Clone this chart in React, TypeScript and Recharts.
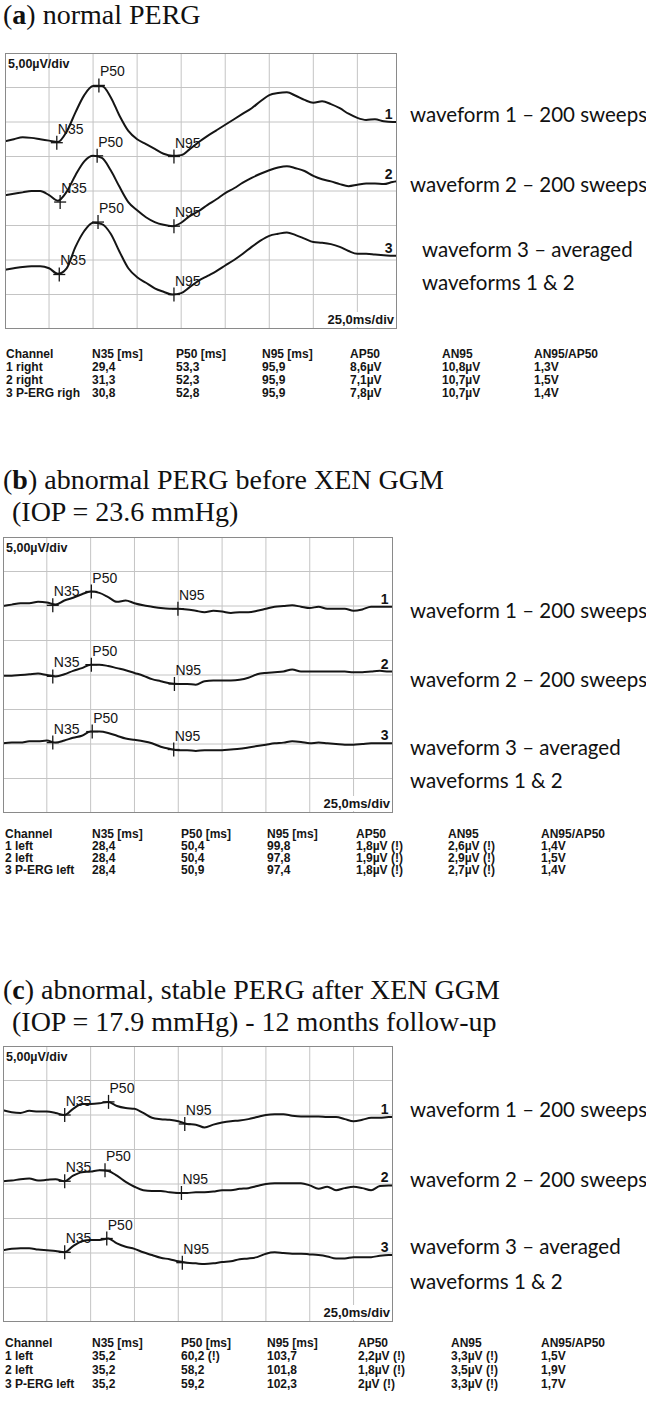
import React from 'react';
import { LineChart, Line, XAxis, YAxis, CartesianGrid, ReferenceDot } from 'recharts';

// sample times (ms) shared by every trace
const TIME_MS = [
  0, 5, 10, 15, 20, 25, 30, 35, 40, 45, 50, 55, 60, 65, 70, 75, 80, 85, 90, 95, 100, 105, 110,
  115, 120, 125, 130, 135, 140, 145, 150, 155, 160, 165, 170, 175, 180, 185, 190, 195, 200, 205,
  210, 215, 220, 222.5
];

// grid: 25 ms/div horizontally, 5 µV/div vertically
const GRID_MS = [25, 50, 75, 100, 125, 150, 175, 200];
const GRID_UV = [5, 10, 15, 20, 25, 30, 35];

// (a) normal PERG – traces in µV on the screen scale (0..40)
const A_WAVE_1 = [
  27.2, 27.5, 27.8, 27.7, 27.5, 27.3, 27.1, 28.6, 31.4, 33.9, 35.2, 35.2, 33.6, 30.9, 28.7, 27.5,
  26.8, 26.1, 25.4, 25.1, 25.2, 26.1, 27.1, 28.0, 28.8, 29.6, 30.4, 31.2, 32.0, 33.0, 33.9, 34.2,
  34.3, 33.8, 33.2, 32.8, 33.0, 32.6, 32.0, 31.2, 30.6, 30.3, 30.4, 30.1, 30.0, 30.0
];
const A_WAVE_2 = [
  19.4, 19.6, 19.8, 20.0, 20.0, 19.4, 18.6, 19.9, 22.3, 24.3, 25.1, 24.8, 23.0, 20.6, 18.4, 17.2,
  16.2, 15.5, 15.1, 14.9, 15.4, 16.4, 17.1, 18.0, 18.8, 19.7, 20.4, 21.2, 21.9, 22.5, 23.0, 23.4,
  23.6, 23.3, 22.9, 22.2, 21.7, 21.4, 21.0, 20.7, 20.9, 21.1, 21.1, 21.0, 21.3, 21.4
];
const A_WAVE_3 = [
  8.6, 8.8, 9.0, 9.1, 9.1, 8.8, 8.0, 8.8, 11.9, 14.2, 15.4, 15.2, 13.8, 11.2, 8.8, 7.5, 6.7, 5.9,
  5.4, 5.0, 5.2, 6.1, 7.0, 7.7, 8.4, 9.2, 10.0, 10.9, 11.9, 12.8, 13.5, 13.8, 14.0, 13.6, 13.1,
  12.6, 12.5, 12.3, 11.9, 11.3, 10.9, 10.9, 10.8, 10.7, 10.6, 10.6
];

// (b) abnormal PERG before XEN GGM
const B_WAVE_1 = [
  30.0, 30.2, 30.4, 30.4, 30.6, 30.5, 30.2, 30.8, 31.2, 31.7, 32.1, 31.9, 31.3, 30.6, 30.8, 30.4,
  30.1, 29.9, 29.7, 29.6, 29.6, 29.5, 29.3, 29.1, 29.3, 29.2, 29.0, 29.1, 29.1, 29.3, 29.6, 29.9,
  30.0, 30.1, 29.9, 29.7, 29.9, 29.6, 29.6, 29.6, 29.3, 29.5, 29.9, 29.9, 29.9, 29.9
];
const B_WAVE_2 = [
  19.9, 19.9, 20.0, 20.1, 20.2, 20.0, 19.8, 20.1, 20.6, 21.0, 21.5, 21.5, 21.3, 21.0, 20.7, 20.3,
  19.9, 19.4, 19.1, 18.8, 18.7, 18.7, 18.6, 19.1, 19.2, 19.2, 19.2, 19.3, 19.6, 20.1, 20.3, 20.4,
  20.5, 20.8, 20.5, 20.5, 20.5, 20.5, 20.5, 20.5, 20.4, 20.4, 20.5, 20.6, 20.5, 20.5
];
const B_WAVE_3 = [
  10.1, 10.2, 10.2, 10.4, 10.4, 10.5, 10.2, 10.5, 10.9, 11.2, 11.8, 11.8, 11.6, 11.2, 10.8, 10.6,
  10.4, 10.1, 9.6, 9.3, 9.1, 9.1, 9.0, 9.1, 9.1, 9.1, 9.2, 9.3, 9.5, 9.7, 9.9, 10.1, 10.2, 10.4,
  10.3, 10.1, 10.2, 10.1, 10.0, 9.9, 9.9, 10.0, 10.1, 10.1, 10.1, 10.1
];

// (c) abnormal, stable PERG after XEN GGM
const C_WAVE_1 = [
  30.7, 30.4, 30.3, 30.6, 30.5, 30.5, 30.3, 30.0, 30.9, 31.6, 31.6, 31.7, 31.9, 31.3, 31.0, 30.9,
  30.3, 29.6, 29.4, 29.3, 29.1, 28.7, 28.6, 28.2, 28.6, 28.9, 29.1, 29.2, 29.4, 29.7, 30.0, 30.1,
  30.1, 29.9, 29.8, 29.8, 29.8, 29.7, 29.7, 29.4, 29.1, 29.3, 29.6, 29.6, 29.7, 29.7
];
const C_WAVE_2 = [
  20.4, 20.5, 20.7, 20.8, 20.5, 20.6, 20.7, 20.4, 21.2, 21.7, 21.8, 22.0, 21.9, 21.2, 20.3, 19.6,
  19.1, 19.0, 19.0, 18.8, 18.7, 18.7, 18.8, 18.8, 18.9, 19.1, 19.1, 19.3, 19.4, 19.7, 20.0, 20.1,
  20.1, 20.1, 20.1, 19.8, 19.3, 19.6, 19.1, 19.4, 19.6, 19.4, 19.1, 19.7, 19.8, 19.8
];
const C_WAVE_3 = [
  10.4, 10.6, 10.7, 10.7, 10.5, 10.4, 10.3, 10.1, 11.0, 11.7, 11.9, 11.9, 12.1, 11.4, 10.9, 10.6,
  10.1, 9.7, 9.3, 9.1, 8.8, 8.6, 8.5, 8.4, 8.5, 8.7, 8.8, 9.1, 9.2, 9.4, 9.9, 10.1, 10.0, 9.9,
  9.9, 9.8, 9.7, 9.5, 9.2, 9.2, 9.4, 9.4, 9.4, 9.6, 9.7, 9.7
];

// peak markers: [name, latency ms, level µV]
type Peak = [string, number, number];
const A_PEAKS_1: Peak[] = [['N35', 29.4, 27.0], ['P50', 53.3, 35.3], ['N95', 95.9, 25.0]];
const A_PEAKS_2: Peak[] = [['N35', 31.3, 18.4], ['P50', 52.3, 25.1], ['N95', 95.9, 14.9]];
const A_PEAKS_3: Peak[] = [['N35', 30.8, 7.9], ['P50', 52.8, 15.5], ['N95', 95.9, 5.0]];
const B_PEAKS_1: Peak[] = [['N35', 28.4, 30.1], ['P50', 50.4, 32.1], ['N95', 99.8, 29.6]];
const B_PEAKS_2: Peak[] = [['N35', 28.4, 19.8], ['P50', 50.4, 21.5], ['N95', 97.8, 18.7]];
const B_PEAKS_3: Peak[] = [['N35', 28.4, 10.2], ['P50', 50.9, 11.8], ['N95', 97.4, 9.2]];
const C_PEAKS_1: Peak[] = [['N35', 35.2, 30.0], ['P50', 60.2, 31.9], ['N95', 103.7, 28.7]];
const C_PEAKS_2: Peak[] = [['N35', 35.2, 20.4], ['P50', 58.2, 22.0], ['N95', 101.8, 18.7]];
const C_PEAKS_3: Peak[] = [['N35', 35.2, 10.1], ['P50', 59.2, 12.1], ['N95', 102.3, 8.6]];

const TABLE_HEAD = ['Channel', 'N35 [ms]', 'P50 [ms]', 'N95 [ms]', 'AP50', 'AN95', 'AN95/AP50'];
const A_ROWS = [
  ['1 right', '29,4', '53,3', '95,9', '8,6µV', '10,8µV', '1,3V'],
  ['2 right', '31,3', '52,3', '95,9', '7,1µV', '10,7µV', '1,5V'],
  ['3 P-ERG righ', '30,8', '52,8', '95,9', '7,8µV', '10,7µV', '1,4V']
];
const B_ROWS = [
  ['1 left', '28,4', '50,4', '99,8', '1,8µV (!)', '2,6µV (!)', '1,4V'],
  ['2 left', '28,4', '50,4', '97,8', '1,9µV (!)', '2,9µV (!)', '1,5V'],
  ['3 P-ERG left', '28,4', '50,9', '97,4', '1,8µV (!)', '2,7µV (!)', '1,4V']
];
const C_ROWS = [
  ['1 left', '35,2', '60,2 (!)', '103,7', '2,2µV (!)', '3,3µV (!)', '1,5V'],
  ['2 left', '35,2', '58,2', '101,8', '1,8µV (!)', '3,5µV (!)', '1,9V'],
  ['3 P-ERG left', '35,2', '59,2', '102,3', '2µV (!)', '3,3µV (!)', '1,7V']
];

const NOTES = ['waveform 1 – 200 sweeps', 'waveform 2 – 200 sweeps', 'waveform 3 – averaged', 'waveforms 1 & 2'];

const SANS = '"Liberation Sans", Arial, sans-serif';
const SERIF = '"Liberation Serif", "Times New Roman", serif';
const BOX_H = 276;
const INK = '#151515';

const PeakMark = (props: any) => {
  const { cx, cy, name } = props;
  return (
    <g>
      <line x1={cx} y1={cy - 7} x2={cx} y2={cy + 7} stroke={INK} strokeWidth={1.3} />
      <line x1={cx - 6} y1={cy} x2={cx + 6} y2={cy} stroke={INK} strokeWidth={1.3} />
      <text x={cx + 1} y={cy - 9} fontFamily={SANS} fontSize={14} fill={INK}>{name}</text>
    </g>
  );
};

const WaveNumber = (props: any) => {
  const { cx, cy, num } = props;
  return (
    <text x={cx} y={cy - 3} textAnchor="end" fontFamily={SANS} fontSize={14} fontWeight={700} fill={INK}>
      {num}
    </text>
  );
};

interface TraceProps {
  left: number;
  top: number;
  width: number;
  waves: number[][];
  peaks: Peak[][];
}

function TraceBox({ left, top, width, waves, peaks }: TraceProps) {
  const data = TIME_MS.map((t, i) => ({ t, w1: waves[0][i], w2: waves[1][i], w3: waves[2][i] }));
  return (
    <div style={{ position: 'absolute', left, top, width, height: BOX_H }}>
      <LineChart width={width} height={BOX_H} data={data} margin={{ top: 0, right: 0, bottom: 0, left: 0 }}>
        <CartesianGrid stroke="#c4c4c4" strokeWidth={1} />
        <XAxis type="number" dataKey="t" domain={[0, 222.5]} ticks={GRID_MS} hide />
        <YAxis type="number" domain={[0, 40]} ticks={GRID_UV} hide />
        {['w1', 'w2', 'w3'].map(k => (
          <Line key={k} dataKey={k} type="monotone" stroke={INK} strokeWidth={2} dot={false} isAnimationActive={false} />
        ))}
        {peaks.map((list, wi) =>
          list.map(([name, t, v]) => (
            <ReferenceDot key={`${wi}-${name}`} x={t} y={v} r={0} shape={(p: any) => <PeakMark {...p} name={name} />} />
          ))
        )}
        {waves.map((w, wi) => (
          <ReferenceDot
            key={`n${wi}`}
            x={TIME_MS[TIME_MS.length - 2]}
            y={w[w.length - 2]}
            r={0}
            shape={(p: any) => <WaveNumber {...p} num={wi + 1} />}
          />
        ))}
      </LineChart>
      <div style={{ position: 'absolute', inset: 0, border: '1px solid #8a8a8a', boxSizing: 'border-box', pointerEvents: 'none' }} />
    </div>
  );
}

interface Box { left: number; top: number; width: number }
const BOX_A: Box = { left: 5, top: 53, width: 392 };
const BOX_B: Box = { left: 3, top: 537, width: 390 };
const BOX_C: Box = { left: 3, top: 1046, width: 390 };

function BoxTexts({ box }: { box: Box }) {
  const right = box.left + box.width;
  const bottom = box.top + BOX_H;
  return (
    <g fontFamily={SANS} fontWeight={700} fill={INK}>
      <text x={box.left + 3} y={box.top + 15} fontSize={12.5}>5,00µV/div</text>
      <rect x={right - 72} y={bottom - 17} width={70} height={15} fill="#fff" />
      <text x={right - 3} y={bottom - 5} fontSize={13} textAnchor="end">25,0ms/div</text>
    </g>
  );
}

function Table({ rows, cols, ys }: { rows: string[][]; cols: number[]; ys: number[] }) {
  return (
    <g fontFamily={SANS} fontSize={12} fontWeight={700} fill={INK}>
      {TABLE_HEAD.map((h, i) => (
        <text key={h} x={cols[i]} y={ys[0]}>{h}</text>
      ))}
      {rows.map((r, ri) =>
        r.map((cell, ci) => (
          <text key={`${ri}-${ci}`} x={cols[ci]} y={ys[ri + 1]}>{cell}</text>
        ))
      )}
    </g>
  );
}

function Notes({ ys, xs }: { ys: number[]; xs: number[] }) {
  return (
    <g fontFamily="Lato, 'Open Sans', sans-serif" fontSize={20.5} fill="#111">
      {NOTES.map((n, i) => (
        <text key={n} x={xs[i]} y={ys[i]}>{n}</text>
      ))}
    </g>
  );
}

export default function App() {
  return (
    <div style={{ position: 'absolute', left: 0, top: 0, width: 646, height: 1407, background: '#fff', overflow: 'hidden' }}>
      <TraceBox {...BOX_A} waves={[A_WAVE_1, A_WAVE_2, A_WAVE_3]} peaks={[A_PEAKS_1, A_PEAKS_2, A_PEAKS_3]} />
      <TraceBox {...BOX_B} waves={[B_WAVE_1, B_WAVE_2, B_WAVE_3]} peaks={[B_PEAKS_1, B_PEAKS_2, B_PEAKS_3]} />
      <TraceBox {...BOX_C} waves={[C_WAVE_1, C_WAVE_2, C_WAVE_3]} peaks={[C_PEAKS_1, C_PEAKS_2, C_PEAKS_3]} />
      <svg width={646} height={1407} style={{ position: 'absolute', left: 0, top: 0, pointerEvents: 'none' }}>
        <g fontFamily={SERIF} fontSize={28} fill="#111">
          <text x={3} y={24}>(<tspan fontWeight={700}>a</tspan>) normal PERG</text>
          <text x={3} y={489}>(<tspan fontWeight={700}>b</tspan>) abnormal PERG before XEN GGM</text>
          <text x={12} y={521}>(IOP = 23.6 mmHg)</text>
          <text x={3} y={999}>(<tspan fontWeight={700}>c</tspan>) abnormal, stable PERG after XEN GGM</text>
          <text x={12} y={1031}>(IOP = 17.9 mmHg) - 12 months follow-up</text>
        </g>
        <BoxTexts box={BOX_A} />
        <BoxTexts box={BOX_B} />
        <BoxTexts box={BOX_C} />
        <Notes xs={[410, 410, 422, 422]} ys={[122, 192, 257, 290]} />
        <Notes xs={[410, 410, 410, 410]} ys={[618, 687, 755, 788]} />
        <Notes xs={[410, 410, 410, 410]} ys={[1117, 1187, 1254, 1289]} />
        <Table rows={A_ROWS} cols={[6, 92, 176, 262, 350, 442, 534]} ys={[358, 371, 384, 397]} />
        <Table rows={B_ROWS} cols={[5, 92, 181, 267, 356, 448, 541]} ys={[838, 850, 862, 874]} />
        <Table rows={C_ROWS} cols={[5, 92, 181, 267, 358, 451, 541]} ys={[1347, 1360, 1374, 1388]} />
      </svg>
    </div>
  );
}
